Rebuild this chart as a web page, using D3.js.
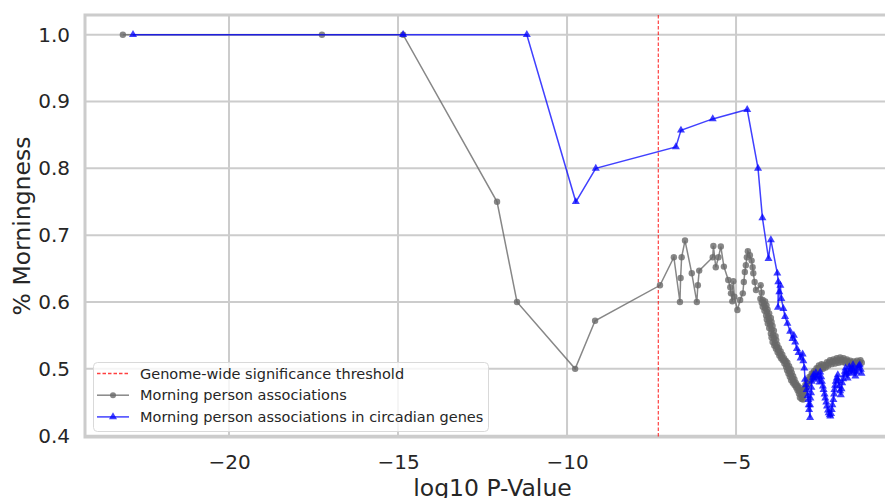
<!DOCTYPE html>
<html>
<head>
<meta charset="utf-8">
<script src="https://cdn.jsdelivr.net/npm/d3@7"></script>
<style>
  body { margin: 0; background: #fff; }
  svg text { font-family: "DejaVu Sans", sans-serif; fill: #262626; }
</style>
</head>
<body>
<svg id="chart" width="885" height="498"></svg>
<script>
// ticks
var xTicks = [-20, -15, -10, -5];
var yTicks = [0.4, 0.5, 0.6, 0.7, 0.8, 0.9, 1.0];
var threshold = -7.3; // log10(5e-8)

// [log10 p, % morningness]
var morning = [
  [-23.14,1.000],[-17.25,1.000],[-14.85,1.000],[-12.07,0.750],[-11.48,0.600],[-9.76,0.500],[-9.17,0.572],[-7.25,0.625],
  [-6.84,0.667],[-6.66,0.600],[-6.64,0.636],[-6.61,0.667],[-6.51,0.692],[-6.31,0.643],[-6.16,0.600],[-6.13,0.625],[-6.09,0.647],
  [-5.69,0.667],[-5.67,0.684],[-5.60,0.652],[-5.52,0.667],[-5.45,0.683],[-5.36,0.653],[-5.23,0.633],[-5.17,0.622],[-5.15,0.613],
  [-5.11,0.601],[-5.08,0.631],[-5.05,0.608],[-4.96,0.588],[-4.88,0.603],[-4.80,0.613],[-4.77,0.630],[-4.74,0.645],[-4.71,0.655],
  [-4.68,0.667],[-4.65,0.676],[-4.59,0.670],[-4.54,0.662],[-4.51,0.652],[-4.49,0.643],[-4.45,0.630],[-4.41,0.618],[-4.27,0.625],
  [-4.24,0.614],
  [-4.28,0.605],[-4.21,0.603],[-4.14,0.601],[-4.24,0.599],[-4.17,0.597],[-4.10,0.595],[-4.21,0.593],[-4.14,0.591],[-4.07,0.589],
  [-4.16,0.587],[-4.09,0.585],[-4.02,0.583],[-4.11,0.580],[-4.04,0.578],[-3.97,0.576],[-4.09,0.574],[-4.02,0.572],[-3.95,0.570],
  [-4.06,0.568],[-3.99,0.566],[-3.92,0.564],[-4.02,0.561],[-3.95,0.559],[-3.88,0.557],[-3.97,0.553],[-3.90,0.551],[-3.83,0.549],
  [-3.95,0.547],[-3.88,0.545],[-3.81,0.543],[-3.92,0.540],[-3.85,0.538],[-3.78,0.536],[-3.87,0.535],[-3.80,0.533],[-3.73,0.531],
  [-3.82,0.530],[-3.75,0.528],[-3.68,0.526],[-3.77,0.525],[-3.70,0.523],[-3.63,0.521],[-3.72,0.520],[-3.65,0.518],[-3.58,0.516],
  [-3.67,0.516],[-3.60,0.514],[-3.53,0.512],[-3.62,0.513],[-3.55,0.511],[-3.48,0.509],[-3.57,0.508],[-3.50,0.506],[-3.43,0.504],
  [-3.52,0.503],[-3.45,0.501],[-3.38,0.499],[-3.49,0.498],[-3.42,0.496],[-3.35,0.494],[-3.45,0.493],[-3.38,0.491],[-3.31,0.489],
  [-3.41,0.488],[-3.34,0.486],[-3.27,0.484],[-3.37,0.483],[-3.30,0.481],[-3.23,0.479],[-3.32,0.479],[-3.25,0.477],[-3.18,0.475],
  [-3.27,0.476],[-3.20,0.474],[-3.13,0.472],[-3.22,0.472],[-3.15,0.470],[-3.08,0.468],[-3.18,0.468],[-3.11,0.466],[-3.04,0.464],
  [-3.14,0.463],[-3.08,0.461],[-3.03,0.459],[-3.11,0.457],[-3.06,0.455],[-3.02,0.454],
  [-3.00,0.462],[-3.00,0.468],[-2.97,0.464],[-2.96,0.471],[-2.95,0.476],[-2.92,0.472],[-2.90,0.479],[-2.89,0.483],[-2.86,0.478],
  [-2.84,0.484],[-2.83,0.488],[-2.80,0.483],[-2.78,0.489],[-2.76,0.493],[-2.73,0.488],[-2.71,0.493],[-2.69,0.497],[-2.66,0.492],
  [-2.64,0.497],[-2.62,0.501],[-2.58,0.496],[-2.57,0.501],[-2.55,0.505],[-2.51,0.499],[-2.49,0.503],[-2.47,0.507],[-2.43,0.500],
  [-2.41,0.503],[-2.39,0.506],[-2.35,0.502],[-2.33,0.506],[-2.31,0.510],[-2.27,0.505],[-2.25,0.509],[-2.22,0.513],[-2.17,0.507],
  [-2.15,0.511],[-2.12,0.514],[-2.07,0.508],[-2.05,0.512],[-2.02,0.516],[-1.97,0.509],[-1.95,0.513],[-1.92,0.517],[-1.87,0.510],
  [-1.85,0.513],[-1.82,0.516],[-1.77,0.509],[-1.75,0.512],[-1.72,0.514],[-1.67,0.507],[-1.65,0.510],[-1.62,0.512],[-1.57,0.505],
  [-1.55,0.508],[-1.52,0.511],[-1.47,0.505],[-1.45,0.509],[-1.42,0.512],[-1.37,0.506],[-1.35,0.510],[-1.32,0.513],[-1.28,0.509]
];

var circadian = [
  [-22.84,1.000],[-14.85,1.000],[-11.19,1.000],[-9.74,0.750],[-9.15,0.800],[-6.78,0.832],[-6.63,0.857],[-5.69,0.874],[-4.67,0.888],
  [-4.35,0.800],[-4.22,0.726],[-4.04,0.665],[-3.97,0.693],[-3.78,0.643],[-3.75,0.630],[-3.76,0.592],[-3.72,0.615],[-3.69,0.625],
  [-3.66,0.605],[-3.60,0.590],[-3.55,0.578],[-3.48,0.568],[-3.40,0.556],[-3.33,0.545],[-3.29,0.550],[-3.25,0.540],[-3.20,0.530],
  [-3.15,0.524],[-3.09,0.516],[-3.03,0.522],[-3.01,0.512],[-2.98,0.501],[-2.96,0.484],[-2.93,0.476],[-2.91,0.469],[-2.88,0.460],
  [-2.86,0.454],[-2.85,0.446],[-2.84,0.439],[-2.81,0.427],[-2.81,0.446],[-2.80,0.456],[-2.78,0.464],[-2.77,0.472],[-2.76,0.481],
  [-2.73,0.487],[-2.71,0.491],[-2.68,0.484],[-2.64,0.494],[-2.60,0.486],[-2.56,0.489],[-2.53,0.480],[-2.51,0.495],[-2.48,0.488],
  [-2.46,0.481],[-2.43,0.474],[-2.41,0.469],[-2.38,0.462],[-2.36,0.456],[-2.33,0.450],[-2.31,0.444],[-2.28,0.438],[-2.26,0.434],
  [-2.23,0.431],[-2.21,0.429],[-2.19,0.433],[-2.17,0.439],[-2.15,0.446],[-2.12,0.454],[-2.10,0.462],[-2.09,0.469],[-2.07,0.475],
  [-2.05,0.481],[-2.02,0.486],[-1.99,0.491],[-1.97,0.482],[-1.95,0.474],[-1.92,0.467],[-1.90,0.461],[-1.88,0.470],[-1.86,0.479],
  [-1.83,0.485],[-1.80,0.491],[-1.78,0.496],[-1.76,0.501],[-1.73,0.493],[-1.70,0.486],[-1.67,0.495],[-1.65,0.503],[-1.61,0.498],
  [-1.58,0.493],[-1.56,0.500],[-1.54,0.506],[-1.50,0.497],[-1.47,0.489],[-1.44,0.495],[-1.41,0.501],[-1.37,0.504],[-1.34,0.506],
  [-1.31,0.499],[-1.29,0.493]
];

var legendLabels = ["Genome-wide significance threshold", "Morning person associations", "Morning person associations in circadian genes"];
var legendColors = ["#ff0000", "dimgray", "blue"];

var pLeft = 85, pRight = 900, pTop = 15, pBottom = 437;
var x = d3.scaleLinear().domain([-24.26, -0.15]).range([pLeft, pRight]);
var y = d3.scaleLinear().domain([0.398, 1.0295]).range([pBottom, pTop]);

var svg = d3.select("#chart");

svg.append("clipPath").attr("id", "clip")
  .append("rect").attr("x", pLeft).attr("y", pTop).attr("width", pRight - pLeft).attr("height", pBottom - pTop);

// grid
svg.append("g").selectAll("line").data(xTicks).enter().append("line")
  .attr("x1", function(d){ return x(d) }).attr("x2", function(d){ return x(d) })
  .attr("y1", pTop).attr("y2", pBottom)
  .attr("stroke", "#cccccc").attr("stroke-width", 2);
svg.append("g").selectAll("line").data(yTicks).enter().append("line")
  .attr("y1", function(d){ return y(d) }).attr("y2", function(d){ return y(d) })
  .attr("x1", pLeft).attr("x2", pRight)
  .attr("stroke", "#cccccc").attr("stroke-width", 2);

// spines
svg.append("rect").attr("x", pLeft).attr("y", pTop).attr("width", pRight - pLeft).attr("height", pBottom - pTop)
  .attr("fill", "none").attr("stroke", "#cccccc").attr("stroke-width", 3);

// tick labels
var xAxis = svg.append("g").attr("transform", "translate(0," + pBottom + ")")
  .call(d3.axisBottom(x).tickValues(xTicks).tickSize(0).tickPadding(18));
var yAxis = svg.append("g").attr("transform", "translate(" + pLeft + ",0)")
  .call(d3.axisLeft(y).tickValues(yTicks).tickSize(0).tickPadding(15).tickFormat(d3.format(".1f")));
[xAxis, yAxis].forEach(function(a){
  a.select(".domain").remove();
  a.selectAll("text").style("font-size", "20px").attr("fill", "#262626");
});

svg.append("text").attr("x", (pLeft + pRight) / 2).attr("y", 496)
  .attr("text-anchor", "middle").style("font-size", "23.5px").text("log10 P-Value");
svg.append("text").attr("transform", "translate(30," + (pTop + pBottom) / 2 + ")rotate(-90)")
  .attr("text-anchor", "middle").style("font-size", "23.5px").text("% Morningness");

var plot = svg.append("g").attr("clip-path", "url(#clip)");

// threshold
plot.append("line")
  .attr("x1", x(threshold)).attr("x2", x(threshold)).attr("y1", pTop).attr("y2", pBottom)
  .attr("stroke", "red").attr("stroke-opacity", 0.75).attr("stroke-width", 1.2).attr("stroke-dasharray", "3.5,2");

var line = d3.line().x(function(d){ return x(d[0]) }).y(function(d){ return y(d[1]) });

// morning person
plot.append("path").datum(morning).attr("d", line)
  .attr("fill", "none").attr("stroke", "dimgray").attr("stroke-opacity", 0.8).attr("stroke-width", 1.5);
plot.append("g").selectAll("circle").data(morning).enter().append("circle")
  .attr("cx", function(d){ return x(d[0]) }).attr("cy", function(d){ return y(d[1]) })
  .attr("r", 3.2).attr("fill", "dimgray").attr("fill-opacity", 0.8);

// circadian genes
var tri = d3.symbol().type(d3.symbolTriangle).size(28);
plot.append("path").datum(circadian).attr("d", line)
  .attr("fill", "none").attr("stroke", "blue").attr("stroke-opacity", 0.75).attr("stroke-width", 1.5);
plot.append("g").selectAll("path").data(circadian).enter().append("path")
  .attr("d", tri)
  .attr("transform", function(d){ return "translate(" + x(d[0]) + "," + y(d[1]) + ")" })
  .attr("fill", "blue").attr("fill-opacity", 0.75);

// legend
var lg = svg.append("g");
lg.append("rect").attr("x", 93.5).attr("y", 362.5).attr("width", 395).attr("height", 69).attr("rx", 4)
  .attr("fill", "#fff").attr("fill-opacity", 0.8).attr("stroke", "#d9d9d9").attr("stroke-width", 1);
legendLabels.forEach(function(label, i){
  var ry = 373.5 + i * 21.7;
  var row = lg.append("g").attr("transform", "translate(0," + ry + ")");
  row.append("line").attr("x1", 97).attr("x2", 129).attr("y1", 0).attr("y2", 0)
    .attr("stroke", legendColors[i])
    .attr("stroke-opacity", i == 1 ? 0.8 : 0.75)
    .attr("stroke-width", i == 0 ? 1.4 : 1.5)
    .attr("stroke-dasharray", i == 0 ? "3.5,2" : null);
  if (i == 1) row.append("circle").attr("cx", 113).attr("cy", 0).attr("r", 3)
    .attr("fill", "dimgray").attr("fill-opacity", 0.8);
  if (i == 2) row.append("path").attr("d", tri).attr("transform", "translate(113,0)")
    .attr("fill", "blue").attr("fill-opacity", 0.75);
  row.append("text").attr("x", 140).attr("y", 0).attr("dy", "0.35em")
    .style("font-size", "14.5px").text(label);
});
</script>
</body>
</html>
